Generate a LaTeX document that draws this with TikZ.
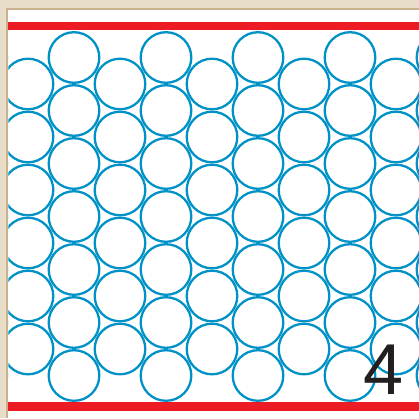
\documentclass[tikz,border=0pt]{standalone}
\usepackage{fontspec}
\setmainfont{Liberation Sans}
\definecolor{beige}{RGB}{232,221,201}
\definecolor{beigedark}{RGB}{201,178,140}
\definecolor{redline}{RGB}{237,28,36}
\definecolor{ballblue}{RGB}{0,146,198}
\definecolor{numblack}{RGB}{35,31,32}
\tikzset{ball/.style={draw=ballblue,line width=2.3pt},
         band/.style={fill=redline}}
\begin{document}
\begin{tikzpicture}[x=1pt,y=-1pt]
\useasboundingbox (0,0) rectangle (419,418);
\fill[white] (0,0) rectangle (419,418);
\fill[beige] (0,0) rectangle (419,8);
\fill[beige] (0,0) rectangle (6,418);
\fill[beigedark] (6,8) rectangle (419,10);
\fill[beigedark] (6,8) rectangle (8.3,418);
\begin{scope}
\clip (8.3,10) rectangle (419,418);
\foreach \i in {0,...,5}{
  \foreach \j in {0,...,6}{
    \draw[ball] ({-18+92*\i},{57.5+53*\j}) circle[radius=25.3];
  }
}
\foreach \i in {0,...,4}{
  \foreach \j in {0,...,5}{
    \draw[ball] ({28+92*\i},{84+53*\j}) circle[radius=25.3];
  }
}
\end{scope}
\fill[band] (8.3,22) rectangle (419,30);
\fill[band] (8.3,402) rectangle (419,411);
\node[anchor=base,inner sep=0pt,text=numblack] (num) at (384,394) {\fontsize{72}{72}\selectfont 4};
\end{tikzpicture}
\end{document}
